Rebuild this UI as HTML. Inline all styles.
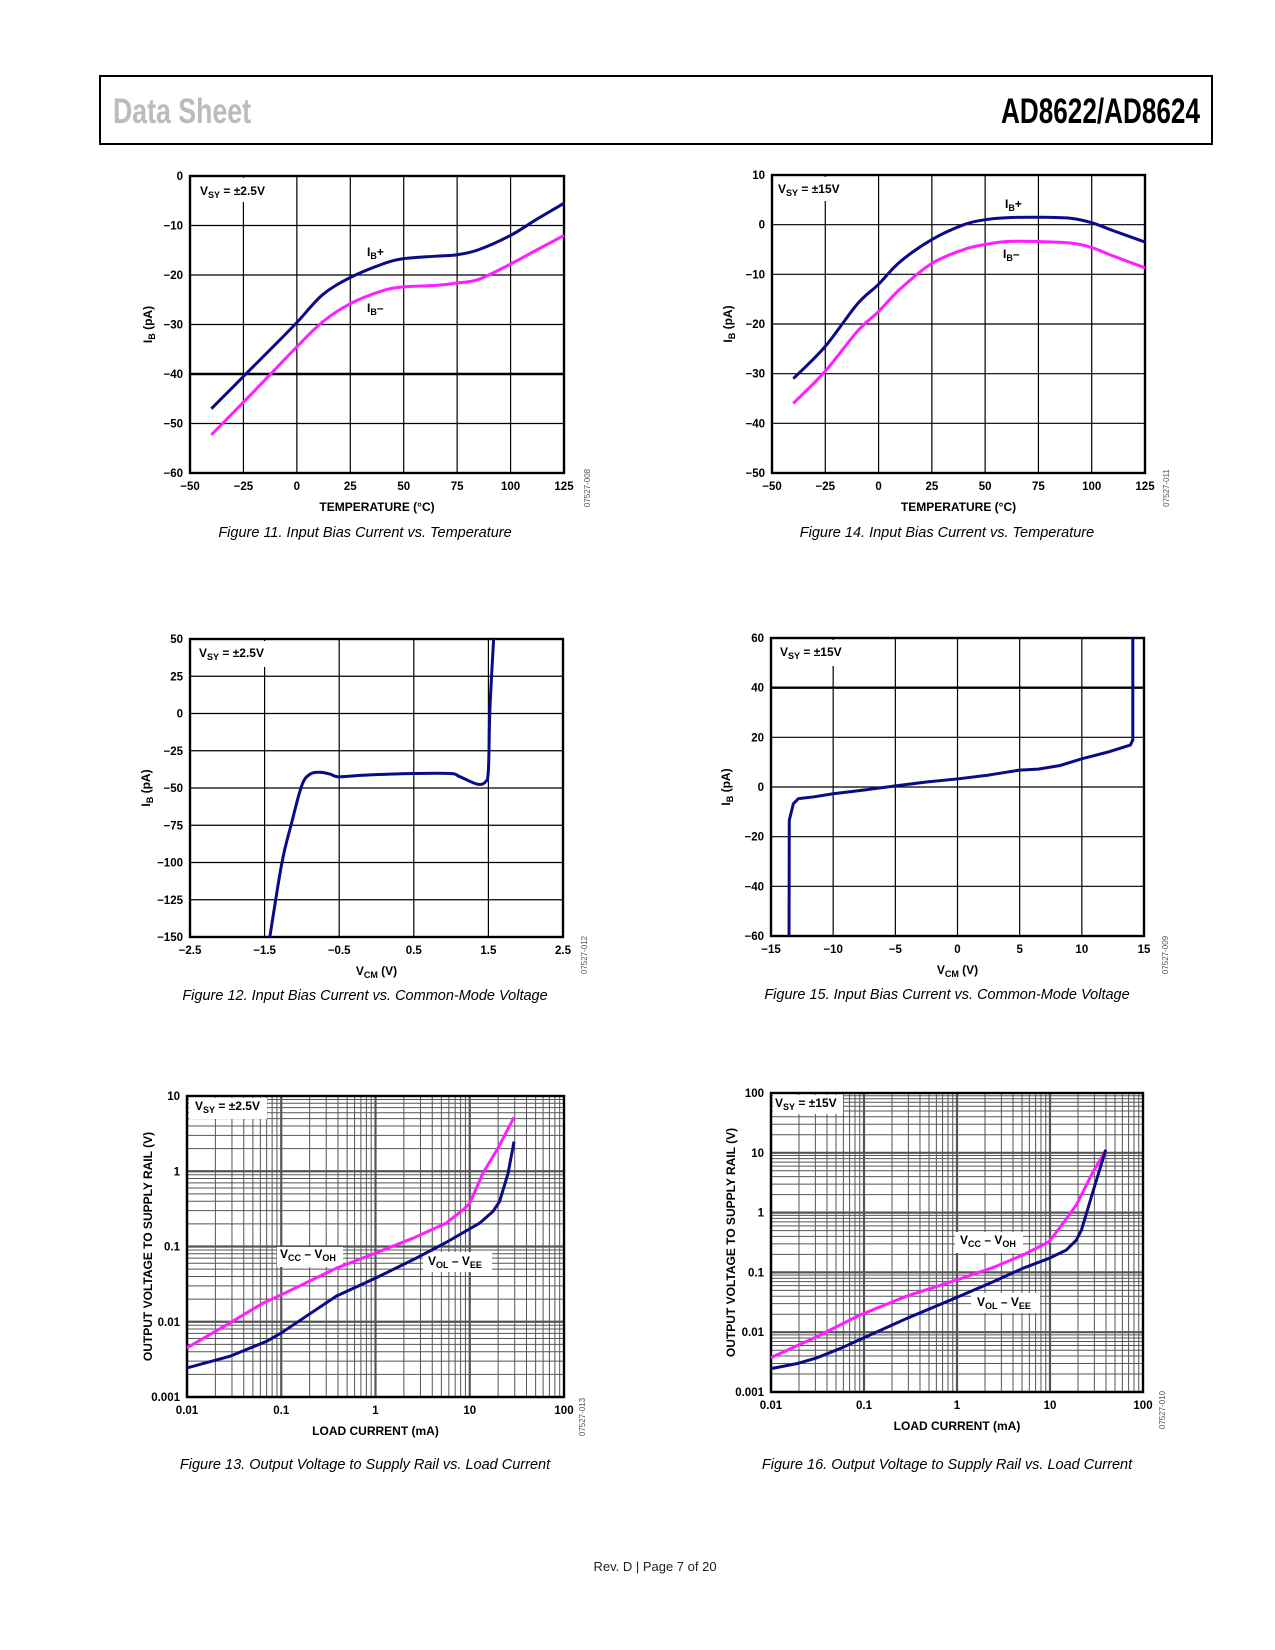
<!DOCTYPE html>
<html><head><meta charset="utf-8"><title>AD8622/AD8624 Data Sheet page 7</title>
<style>
html,body{margin:0;padding:0;background:#fff;}
svg{display:block;font-family:"Liberation Sans",sans-serif;}
.tk{font-size:11.5px;font-weight:bold;fill:#000;}
.at{font-size:12px;font-weight:bold;fill:#000;}
.lb{font-size:12px;font-weight:bold;fill:#000;}
.cap{font-size:14.5px;font-style:italic;fill:#000;}
.code{font-size:8px;fill:#555;}
</style></head>
<body>
<svg id="page" width="1275" height="1650" viewBox="0 0 1275 1650" xmlns="http://www.w3.org/2000/svg">
<rect x="0" y="0" width="1275" height="1650" fill="#fff"/>
<g>
<rect x="100" y="76" width="1112" height="68" fill="none" stroke="#000" stroke-width="2"/>
<text x="113" y="123" font-family="'Liberation Sans Narrow','Liberation Sans',sans-serif" font-weight="bold" font-size="35" fill="#bbb" textLength="138" lengthAdjust="spacingAndGlyphs">Data Sheet</text>
<text x="1001" y="123" font-family="'Liberation Sans Narrow','Liberation Sans',sans-serif" font-weight="bold" font-size="35" fill="#000" textLength="199" lengthAdjust="spacingAndGlyphs">AD8622/AD8624</text>
</g>
<text x="655" y="1571" text-anchor="middle" font-size="13" fill="#222">Rev. D | Page 7 of 20</text>
<g id="charts"></g>
</svg>
<script>
// ---------- Data ----------
// Figure 11
const f11_temp = [-40,-25,-10,0,12,25,40,50,65,75,85,100,112,125];
const f11_ibPlus = [-47,-40.5,-34,-29.6,-24,-20.5,-17.8,-16.7,-16.2,-15.9,-14.9,-12,-8.8,-5.5];
const f11_ibMinus = [-52.3,-45.7,-39,-34.5,-29.5,-25.8,-23.2,-22.4,-22.1,-21.6,-20.9,-17.8,-15,-12];
const f11_xticks = [-50,-25,0,25,50,75,100,125];
const f11_yticks = [0,-10,-20,-30,-40,-50,-60];
// Figure 14
const f14_temp = [-40,-25,-10,0,10,25,40,50,60,75,90,100,110,125];
const f14_ibPlus = [-31,-24.5,-16,-12,-7.5,-3,0,1,1.4,1.5,1.3,0.4,-1.2,-3.5];
const f14_ibMinus = [-36,-29.5,-21.5,-17.5,-13,-7.8,-5,-4,-3.4,-3.4,-3.7,-4.6,-6.3,-8.7];
const f14_xticks = [-50,-25,0,25,50,75,100,125];
const f14_yticks = [10,0,-10,-20,-30,-40,-50];
// Figure 12
const f12_vcm = [-1.43,-1.27,-1.14,-1.0,-0.89,-0.76,-0.62,-0.51,-0.18,0.5,0.99,1.12,1.35,1.46,1.5,1.52,1.57];
const f12_ib = [-150,-100.7,-73.8,-48.1,-40.7,-39.4,-40.7,-42.5,-41.4,-40.3,-40.3,-42.5,-47.4,-45.9,-38,2.3,50];
const f12_xticks = [-2.5,-1.5,-0.5,0.5,1.5,2.5];
const f12_yticks = [50,25,0,-25,-50,-75,-100,-125,-150];
// Figure 15
const f15_vcm = [-13.55,-13.53,-13.2,-12.8,-11.6,-10,-7.5,-4.9,-2.5,0.07,2.5,5.0,6.5,8.2,10.1,12.2,13.9,14.1,14.1];
const f15_ib = [-60,-13.4,-6.7,-4.7,-4,-2.7,-1.2,0.5,2,3.3,4.8,6.8,7.2,8.6,11.5,14.2,16.9,18.9,60];
const f15_xticks = [-15,-10,-5,0,5,10,15];
const f15_yticks = [60,40,20,0,-20,-40,-60];
// Figure 13
const f13_iHigh = [0.01,0.0284,0.064,0.1,0.384,1,2.5,5.6,8.5,10,13.8,19.9,29.5];
const f13_vccVoh = [0.0045,0.0096,0.0177,0.0228,0.0515,0.0817,0.129,0.204,0.307,0.376,0.94,2.02,5.2];
const f13_iLow = [0.01,0.0284,0.07,0.1,0.384,1,2.5,5.6,12.7,17.6,20.7,25.5,29.5];
const f13_volVee = [0.00243,0.00347,0.0055,0.0071,0.0219,0.038,0.0666,0.113,0.204,0.292,0.395,0.94,2.48];
const f13_xticks = [0.01,0.1,1,10,100];
const f13_xlabels = ["0.01","0.1","1","10","100"];
const f13_yticks = [10,1,0.1,0.01,0.001];
const f13_ylabels = ["10","1","0.1","0.01","0.001"];
// Figure 16
const f16_iHigh = [0.01,0.031,0.09,0.286,0.99,2.45,5.1,9.8,13.8,19.2,27.9,39.7];
const f16_vccVoh = [0.00376,0.0084,0.0193,0.040,0.0744,0.121,0.195,0.327,0.66,1.34,4.27,10.9];
const f16_iLow = [0.01,0.0189,0.031,0.055,0.09,0.286,0.99,2.45,5.1,9.8,15.0,19.2,21.8,27.9,39.7];
const f16_volVee = [0.00246,0.00298,0.00372,0.0053,0.0075,0.0169,0.038,0.0698,0.117,0.172,0.237,0.348,0.512,1.85,11.2];
const f16_xticks = [0.01,0.1,1,10,100];
const f16_xlabels = ["0.01","0.1","1","10","100"];
const f16_yticks = [100,10,1,0.1,0.01,0.001];
const f16_ylabels = ["100","10","1","0.1","0.01","0.001"];

const NS = "http://www.w3.org/2000/svg";
const NAVY = "#0b0b85", MAG = "#ff1eff";
const root = document.getElementById("charts");
function mk(tag, attrs, parent){const e=document.createElementNS(NS,tag);for(const k in attrs)e.setAttribute(k,attrs[k]);(parent||root).appendChild(e);return e;}
function fmt(v){return v<0?"\u2212"+String(-v):String(v);}
function scaleFn(min,max,a,b,log){
  if(log){const l0=Math.log10(min),l1=Math.log10(max);return v=>a+(Math.log10(v)-l0)/(l1-l0)*(b-a);}
  return v=>a+(v-min)/(max-min)*(b-a);
}
function subLabel(g,x,y,main,sub,rest,sub2,cls){
  const t=mk("text",{x:x,y:y,class:cls||"lb"},g);
  t.appendChild(document.createTextNode(main));
  const s=mk("tspan",{"font-size":"9","dy":"3"},t);s.textContent=sub;
  const r=mk("tspan",{"dy":"-3"},t);r.textContent=rest;
  if(sub2){const s2=mk("tspan",{"font-size":"9","dy":"3"},t);s2.textContent=sub2;}
  return t;
}
function pathFor(pts,smooth){
  let d="M"+pts[0][0].toFixed(2)+","+pts[0][1].toFixed(2);
  for(let i=1;i<pts.length;i++){
    if(!smooth){d+="L"+pts[i][0].toFixed(2)+","+pts[i][1].toFixed(2);continue;}
    const p0=pts[Math.max(0,i-2)],p1=pts[i-1],p2=pts[i],p3=pts[Math.min(pts.length-1,i+1)];
    const c1=[p1[0]+(p2[0]-p0[0])/6,p1[1]+(p2[1]-p0[1])/6],c2=[p2[0]-(p3[0]-p1[0])/6,p2[1]-(p3[1]-p1[1])/6];
    d+="C"+c1[0].toFixed(2)+","+c1[1].toFixed(2)+" "+c2[0].toFixed(2)+","+c2[1].toFixed(2)+" "+p2[0].toFixed(2)+","+p2[1].toFixed(2);
  }
  return d;
}
function chart(c){
  const g=mk("g",{});
  
  
  const sx=scaleFn(c.xmin,c.xmax,c.x0,c.x1,c.log), sy=scaleFn(c.ymin,c.ymax,c.y1,c.y0,c.log);
  const grid=mk("g",{},g);
  
  
  if(c.log){
    for(let d=Math.log10(c.xmin);d<Math.log10(c.xmax);d++){for(let m=1;m<=9;m++){const v=Math.pow(10,d)*m;const X=sx(v);
      mk("line",{x1:X,x2:X,y1:c.y0,y2:c.y1,stroke:"#555","stroke-width":m===1?2.2:1},grid);}}
    for(let d=Math.log10(c.ymin);d<Math.log10(c.ymax);d++){for(let m=1;m<=9;m++){const v=Math.pow(10,d)*m;const Y=sy(v);
      mk("line",{x1:c.x0,x2:c.x1,y1:Y,y2:Y,stroke:"#555","stroke-width":m===1?2.2:1},grid);}}
  } else {
    c.xticks.forEach(v=>{const X=sx(v);mk("line",{x1:X,x2:X,y1:c.y0,y2:c.y1,stroke:"#000","stroke-width":1.2},grid);});
    c.yticks.forEach(v=>{const Y=sy(v);mk("line",{x1:c.x0,x2:c.x1,y1:Y,y2:Y,stroke:"#000","stroke-width":(c.thick===v)?2.4:1.2},grid);});
  }
  c.boxes.forEach(b=>{const r=mk("rect",{x:b[0],y:b[1],width:b[2],height:b[3],fill:"#fff"},g);
    
    });
  mk("rect",{x:c.x0,y:c.y0,width:c.x1-c.x0,height:c.y1-c.y0,fill:"none",stroke:"#000","stroke-width":2.4},g);
  c.series.forEach(s=>{
    const pts=s.x.map((v,i)=>[sx(v),sy(s.y[i])]);
    const p=mk("path",{d:pathFor(pts,c.smooth),fill:"none",stroke:s.color,"stroke-width":3,"stroke-linejoin":"round","stroke-linecap":"butt"},g);
    
    
  });
  c.xticks.forEach((v,i)=>{const t=mk("text",{x:sx(v),y:c.y1+17,"text-anchor":"middle",class:"tk"},g);
    t.textContent=c.xlabels?c.xlabels[i]:fmt(v);
    
    });
  c.yticks.forEach((v,i)=>{const t=mk("text",{x:c.x0-7,y:sy(v)+4,"text-anchor":"end",class:"tk"},g);
    t.textContent=c.ylabels?c.ylabels[i]:fmt(v);
    
    });
  const xt=c.xtitleSub?subLabel(g,0,c.y1+38,c.xtitle,c.xtitleSub," (V)",null,"at"):mk("text",{class:"at"},g);
  if(!c.xtitleSub){xt.textContent=c.xtitle;xt.setAttribute("y",c.y1+38);}
  xt.setAttribute("x",(c.x0+c.x1)/2);xt.setAttribute("text-anchor","middle");
  
  
  const yg=mk("g",{transform:"translate("+c.ytx+","+((c.y0+c.y1)/2)+") rotate(-90)"},g);
  let yt;
  if(c.ytitleSub){yt=subLabel(yg,0,0,"I","B"," (pA)",null,"at");}
  else{yt=mk("text",{class:"at"},yg);yt.textContent=c.ytitle;}
  yt.setAttribute("text-anchor","middle");
  
  
  c.labels.forEach(l=>{const t=subLabel(g,l[0],l[1],l[2],l[3],l[4],l[5]);
    
    });
  const cg=mk("g",{transform:"translate("+c.codeX+","+c.codeY+") rotate(-90)"},g);
  const ct=mk("text",{class:"code","text-anchor":"middle"},cg);ct.textContent=c.code;
  
  
  const cp=mk("text",{x:c.capX,y:c.capY,"text-anchor":"middle",class:"cap"},g);cp.textContent=c.caption;
  
  
}

chart({name:"figure-11-chart",smooth:true,x0:190,x1:564,y0:176,y1:473,xmin:-50,xmax:125,ymin:-60,ymax:0,thick:-40,
  xticks:f11_xticks,yticks:f11_yticks,xtitle:"TEMPERATURE (\u00B0C)",ytitleSub:true,ytx:152,
  series:[{name:"ib-plus-line",x:f11_temp,y:f11_ibPlus,color:NAVY},{name:"ib-minus-line",x:f11_temp,y:f11_ibMinus,color:MAG}],
  boxes:[[192,178,74,24]],
  labels:[[200,195,"V","SY"," = \u00B12.5V"],[367,256,"I","B","+"],[367,312,"I","B","\u2013"]],
  code:"07527-008",codeX:590,codeY:488,caption:"Figure 11. Input Bias Current vs. Temperature",capX:365,capY:537});

chart({name:"figure-14-chart",smooth:true,x0:772,x1:1145,y0:175,y1:473,xmin:-50,xmax:125,ymin:-50,ymax:10,
  xticks:f14_xticks,yticks:f14_yticks,xtitle:"TEMPERATURE (\u00B0C)",ytitleSub:true,ytx:732,
  series:[{name:"ib-plus-line",x:f14_temp,y:f14_ibPlus,color:NAVY},{name:"ib-minus-line",x:f14_temp,y:f14_ibMinus,color:MAG}],
  boxes:[[774,177,66,24]],
  labels:[[778,193,"V","SY"," = \u00B115V"],[1005,208,"I","B","+"],[1003,258,"I","B","\u2013"]],
  code:"07527-011",codeX:1169,codeY:488,caption:"Figure 14. Input Bias Current vs. Temperature",capX:947,capY:537});

chart({name:"figure-12-chart",smooth:true,x0:190,x1:563,y0:639,y1:937,xmin:-2.5,xmax:2.5,ymin:-150,ymax:50,
  xticks:f12_xticks,yticks:f12_yticks,xtitle:"V",xtitleSub:"CM",ytitleSub:true,ytx:150,
  series:[{name:"ib-vs-vcm-line",x:f12_vcm,y:f12_ib,color:NAVY}],
  boxes:[[192,641,74,26]],
  labels:[[199,657,"V","SY"," = \u00B12.5V"]],
  code:"07527-012",codeX:587,codeY:955,caption:"Figure 12. Input Bias Current vs. Common-Mode Voltage",capX:365,capY:1000});

chart({name:"figure-15-chart",x0:771,x1:1144,y0:638,y1:936,xmin:-15,xmax:15,ymin:-60,ymax:60,thick:40,
  xticks:f15_xticks,yticks:f15_yticks,xtitle:"V",xtitleSub:"CM",ytitleSub:true,ytx:730,
  series:[{name:"ib-vs-vcm-line",x:f15_vcm,y:f15_ib,color:NAVY}],
  boxes:[[773,640,62,26]],
  labels:[[780,656,"V","SY"," = \u00B115V"]],
  code:"07527-009",codeX:1168,codeY:955,caption:"Figure 15. Input Bias Current vs. Common-Mode Voltage",capX:947,capY:999});

chart({name:"figure-13-chart",log:true,x0:187,x1:564,y0:1096,y1:1397,xmin:0.01,xmax:100,ymin:0.001,ymax:10,
  xticks:f13_xticks,xlabels:f13_xlabels,yticks:f13_yticks,ylabels:f13_ylabels,xtitle:"LOAD CURRENT (mA)",ytitle:"OUTPUT VOLTAGE TO SUPPLY RAIL (V)",ytx:152,
  series:[{name:"vcc-minus-voh-line",x:f13_iHigh,y:f13_vccVoh,color:MAG},{name:"vol-minus-vee-line",x:f13_iLow,y:f13_volVee,color:NAVY}],
  boxes:[[189,1098,78,21],[277,1247,66,20],[423,1252,69,20]],
  labels:[[195,1110,"V","SY"," = \u00B12.5V"],[280,1258,"V","CC"," \u2013 V","OH"],[428,1265,"V","OL"," \u2013 V","EE"]],
  code:"07527-013",codeX:585,codeY:1417,caption:"Figure 13. Output Voltage to Supply Rail vs. Load Current",capX:365,capY:1469});

chart({name:"figure-16-chart",log:true,x0:771,x1:1143,y0:1093,y1:1392,xmin:0.01,xmax:100,ymin:0.001,ymax:100,
  xticks:f16_xticks,xlabels:f16_xlabels,yticks:f16_yticks,ylabels:f16_ylabels,xtitle:"LOAD CURRENT (mA)",ytitle:"OUTPUT VOLTAGE TO SUPPLY RAIL (V)",ytx:735,
  series:[{name:"vcc-minus-voh-line",x:f16_iHigh,y:f16_vccVoh,color:MAG},{name:"vol-minus-vee-line",x:f16_iLow,y:f16_volVee,color:NAVY}],
  boxes:[[773,1095,70,19],[955,1232,68,21],[971,1293,69,20]],
  labels:[[775,1107,"V","SY"," = \u00B115V"],[960,1244,"V","CC"," \u2013 V","OH"],[977,1306,"V","OL"," \u2013 V","EE"]],
  code:"07527-010",codeX:1165,codeY:1410,caption:"Figure 16. Output Voltage to Supply Rail vs. Load Current",capX:947,capY:1469});
</script>
</body></html>
